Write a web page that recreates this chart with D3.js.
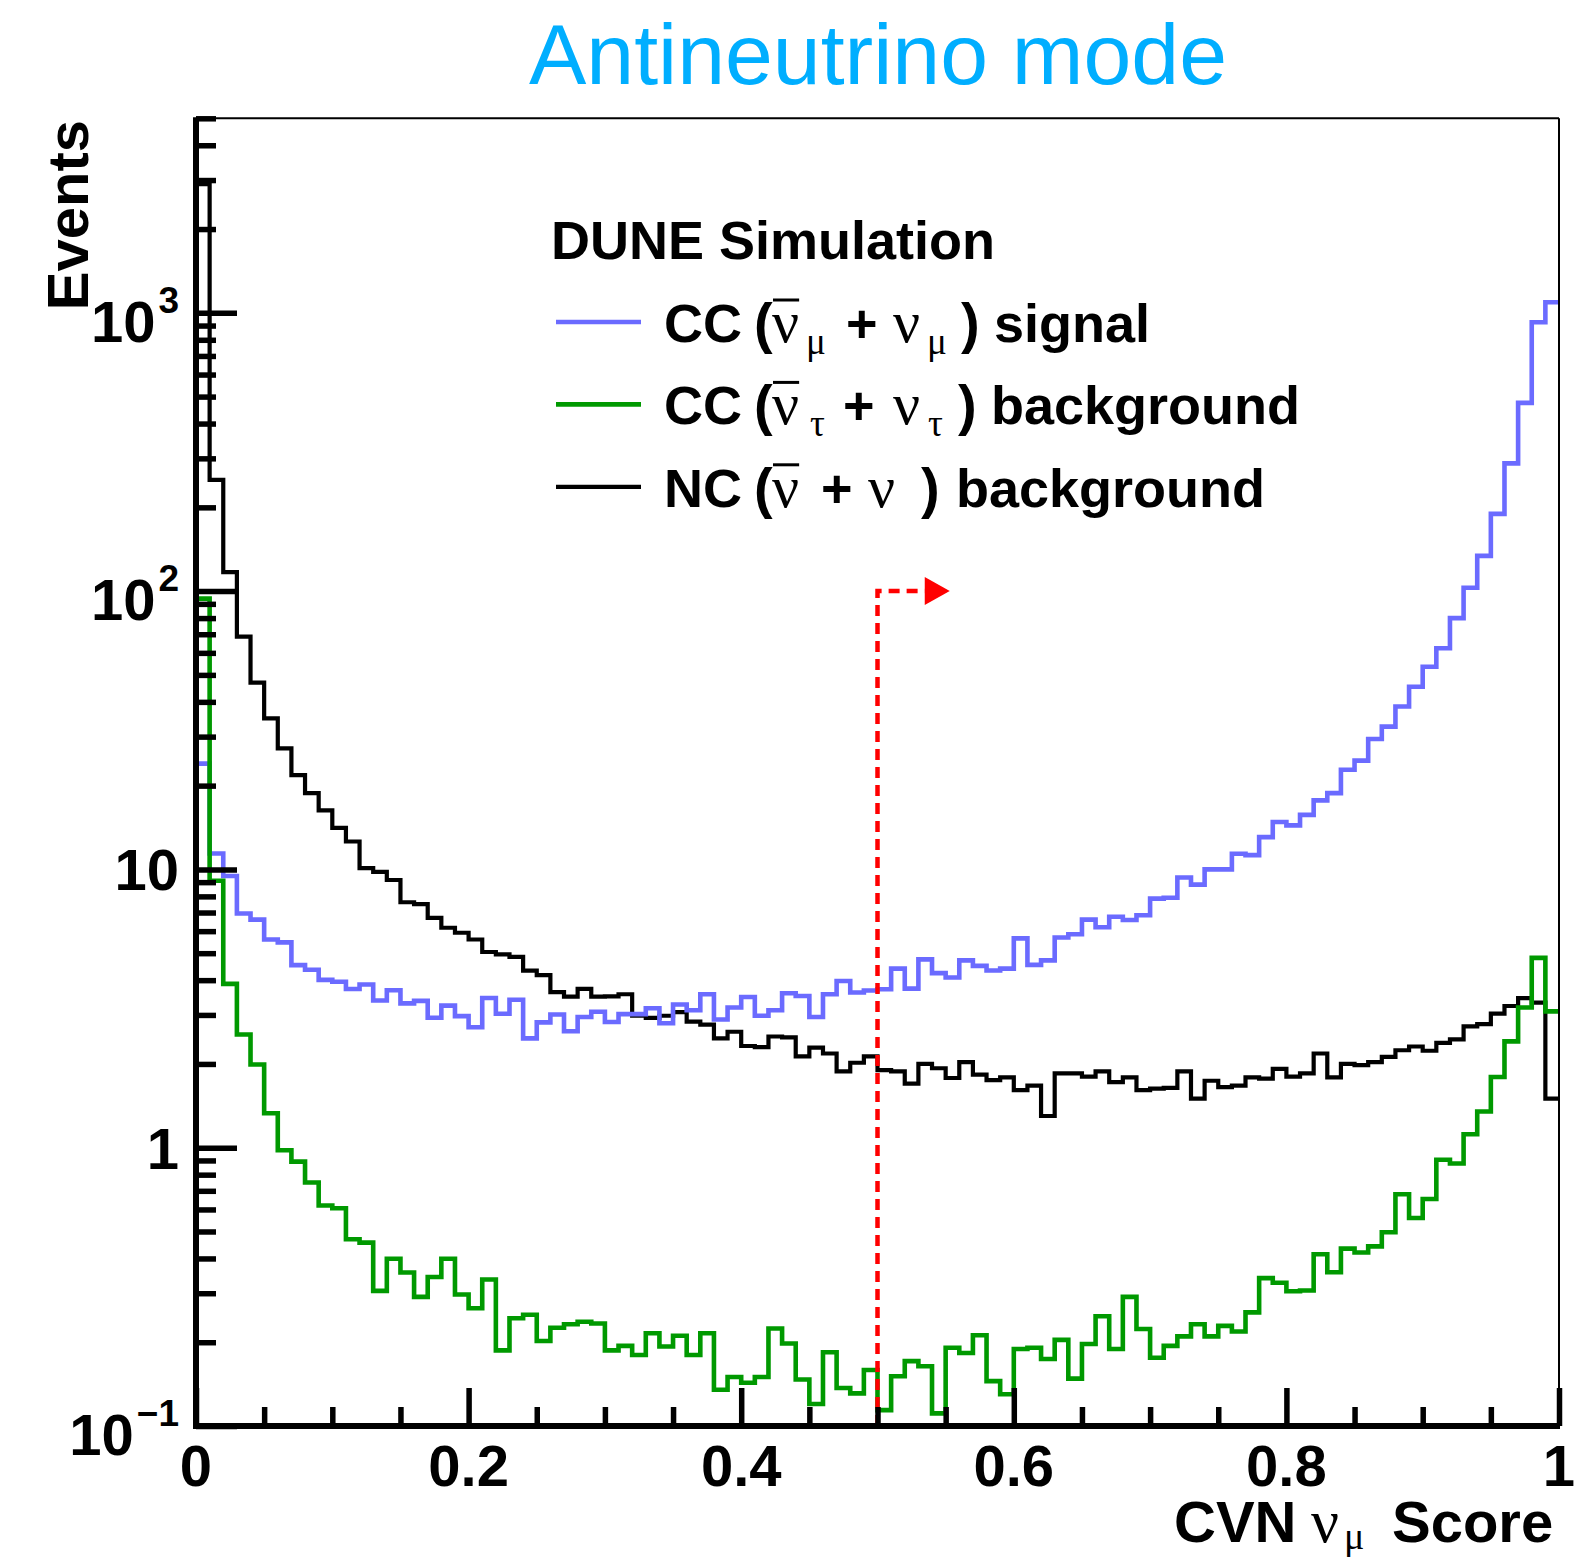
<!DOCTYPE html>
<html>
<head>
<meta charset="utf-8">
<script src="https://cdn.jsdelivr.net/npm/d3@7"></script>
<style>
  html, body { margin: 0; padding: 0; background: #fff; }
  svg { display: block; }
</style>
</head>
<body>
<svg id="chart" width="1577" height="1557"></svg>
<script>
// ---------------- DATA ----------------
// 100 bins of CVN nu_mu score in [0, 1]
const binEdges = d3.range(0, 101).map(i => i / 100);

// CC (anti-nu_mu + nu_mu) signal
const ccMuSignal = [
  24, 11.4, 9.47, 6.94, 6.6, 5.6, 5.47, 4.53, 4.36, 4.01,
  3.95, 3.72, 3.86, 3.38, 3.68, 3.30, 3.37, 2.93, 3.24, 2.97,
  2.71, 3.45, 3.03, 3.40, 2.47, 2.82, 3.01, 2.62, 2.95, 3.08,
  2.83, 3.02, 3.02, 3.17, 2.80, 3.27, 3.12, 3.56, 2.89, 3.19,
  3.48, 2.98, 3.12, 3.59, 3.51, 2.95, 3.56, 3.97, 3.61, 3.67,
  3.71, 4.40, 3.73, 4.75, 4.24, 4.09, 4.71, 4.50, 4.33, 4.40,
  5.65, 4.54, 4.71, 5.69, 5.85, 6.6, 6.2, 6.76, 6.58, 6.84,
  7.85, 7.91, 9.35, 8.82, 10.0, 10.0, 11.38, 11.25, 13.06, 14.8,
  14.39, 15.7, 17.7, 18.8, 22.8, 24.6, 29.4, 32.6, 38.5, 45.3,
  53.5, 62.3, 80.0, 102.8, 133.8, 189.5, 287.7, 474.6, 925, 1091
];

// CC (anti-nu_tau + nu_tau) background
const ccTauBackground = [
  94, 9.1, 3.88, 2.55, 1.99, 1.33, 0.979, 0.891, 0.750, 0.620,
  0.606, 0.469, 0.456, 0.306, 0.399, 0.356, 0.291, 0.343, 0.399, 0.297,
  0.265, 0.336, 0.187, 0.244, 0.251, 0.202, 0.2255, 0.232, 0.237, 0.2335,
  0.187, 0.194, 0.180, 0.2155, 0.193, 0.211, 0.180, 0.2155, 0.135, 0.150,
  0.143, 0.150, 0.224, 0.198, 0.147, 0.120, 0.184, 0.137, 0.131, 0.159,
  0.114, 0.151, 0.171, 0.164, 0.111, 0.191, 0.183, 0.212, 0.145, 0.130,
  0.189, 0.191, 0.174, 0.204, 0.148, 0.197, 0.248, 0.189, 0.291, 0.223,
  0.176, 0.194, 0.210, 0.232, 0.210, 0.229, 0.2185, 0.256, 0.340, 0.327,
  0.305, 0.307, 0.414, 0.357, 0.434, 0.420, 0.442, 0.497, 0.680, 0.559,
  0.654, 0.905, 0.877, 1.118, 1.349, 1.795, 2.41, 3.19, 4.81, 3.09
];

// NC (anti-nu + nu) background
const ncBackground = [
  2900, 251, 117, 68.6, 46.9, 34.9, 27.2, 21.8, 18.8, 16.3,
  14.1, 12.6, 10.1, 9.8, 9.16, 7.62, 7.5, 6.7, 6.17, 5.92,
  5.6, 5.05, 4.95, 4.85, 4.33, 4.17, 3.62, 3.49, 3.72, 3.49,
  3.50, 3.56, 2.98, 2.93, 2.98, 3.07, 2.84, 2.77, 2.47, 2.61,
  2.32, 2.30, 2.51, 2.49, 2.13, 2.29, 2.18, 1.88, 2.02, 2.13,
  1.90, 1.88, 1.70, 2.00, 1.93, 1.78, 2.03, 1.83, 1.75, 1.79,
  1.61, 1.67, 1.30, 1.85, 1.85, 1.80, 1.88, 1.72, 1.79, 1.61,
  1.63, 1.64, 1.88, 1.50, 1.74, 1.65, 1.67, 1.79, 1.77, 1.92,
  1.80, 1.85, 2.18, 1.79, 2.00, 1.98, 2.03, 2.12, 2.24, 2.31,
  2.23, 2.38, 2.45, 2.73, 2.78, 3.03, 3.23, 3.45, 3.32, 1.50
];

// Axis ticks and labels
const xMajorTicks = [0, 0.2, 0.4, 0.6, 0.8, 1];
const xMinorTicks = d3.range(0, 21).map(i => i / 20).filter(v => !xMajorTicks.some(m => Math.abs(m - v) < 1e-9));
const xTickLabels = ["0", "0.2", "0.4", "0.6", "0.8", "1"];
const yMajorTicks = [0.1, 1, 10, 100, 1000];
const yMinorTicks = [0.2,0.3,0.4,0.5,0.6,0.7,0.8,0.9, 2,3,4,5,6,7,8,9, 20,30,40,50,60,70,80,90, 200,300,400,500,600,700,800,900, 2000,3000,4000,5000];
const yTickBases = ["10", "1", "10", "10", "10"];
const yTickExps = ["\u22121", "", "", "2", "3"];
const yDomain = [0.1, 5000];

// Selection cut
const cutValue = 0.5;
const cutArrowLevel = 100;
const cutArrowEnd = 0.553;

// ---------------- LAYOUT ----------------
const SANS = "'Liberation Sans', Arial, Helvetica, sans-serif";
const SERIF = "'Liberation Serif', 'Times New Roman', serif";
const plot = { left: 196, right: 1559, top: 118.3, bottom: 1426 };

const svg = d3.select("#chart");
const x = d3.scaleLinear().domain([0, 1]).range([plot.left, plot.right]);
const y = d3.scaleLog().domain(yDomain).range([plot.bottom, plot.top]);

svg.append("rect").attr("width", 1577).attr("height", 1557).attr("fill", "#fff");

// Title
svg.append("text")
  .attr("x", 878).attr("y", 84)
  .attr("text-anchor", "middle")
  .style("font-family", SANS).style("font-size", "86px")
  .attr("fill", "#00aeff")
  .text("Antineutrino mode");

// clip
svg.append("clipPath").attr("id", "plotclip").append("rect")
  .attr("x", plot.left).attr("y", plot.top)
  .attr("width", plot.right - plot.left).attr("height", plot.bottom - plot.top);

// Histograms
const series = [
  { name: "nc", values: ncBackground, color: "#000000", width: 4.2 },
  { name: "mu", values: ccMuSignal, color: "#6b6bff", width: 4.6 },
  { name: "tau", values: ccTauBackground, color: "#009900", width: 4.6 }
];
const stepLine = d3.line().x(d => x(d[0])).y(d => y(d[1])).curve(d3.curveStepAfter);
const hg = svg.append("g").attr("clip-path", "url(#plotclip)");
series.forEach(s => {
  const pts = s.values.map((v, i) => [binEdges[i], v]);
  pts.push([binEdges[binEdges.length - 1], s.values[s.values.length - 1]]);
  hg.append("path")
    .attr("d", stepLine(pts))
    .attr("fill", "none")
    .attr("stroke", s.color)
    .attr("stroke-width", s.width)
    .attr("stroke-linejoin", "miter")
    .attr("stroke-linecap", "square");
});

// Cut line with arrow
const cutPath = d3.path();
cutPath.moveTo(x(cutValue), y(yDomain[0]));
cutPath.lineTo(x(cutValue), y(cutArrowLevel));
cutPath.lineTo(x(cutArrowEnd) - 25, y(cutArrowLevel));
svg.append("path")
  .attr("d", cutPath.toString())
  .attr("fill", "none").attr("stroke", "#ff0000")
  .attr("stroke-width", 4.5).attr("stroke-dasharray", "11,7");
const ay = y(cutArrowLevel), ax = x(cutArrowEnd);
svg.append("path")
  .attr("d", `M${ax},${ay} L${ax - 25},${ay - 14} L${ax - 25},${ay + 14} Z`)
  .attr("fill", "#ff0000");

// Frame (thin top/right)
svg.append("line").attr("x1", plot.left).attr("x2", plot.right).attr("y1", plot.top).attr("y2", plot.top)
  .attr("stroke", "#000").attr("stroke-width", 2);
svg.append("line").attr("x1", plot.right).attr("x2", plot.right).attr("y1", plot.top).attr("y2", plot.bottom)
  .attr("stroke", "#000").attr("stroke-width", 2);

// Axes ticks (inward)
function styleTicks(g, w) {
  g.select(".domain").remove();
  g.selectAll(".tick line").attr("stroke", "#000").attr("stroke-width", w);
  g.selectAll(".tick text").remove();
}
svg.append("g").attr("transform", `translate(${plot.left},0)`)
  .call(d3.axisLeft(y).tickValues(yMinorTicks).tickSize(-20).tickFormat(""))
  .call(g => styleTicks(g, 5.5));
svg.append("g").attr("transform", `translate(${plot.left},0)`)
  .call(d3.axisLeft(y).tickValues(yMajorTicks).tickSize(-41).tickFormat(""))
  .call(g => styleTicks(g, 5.5));
svg.append("g").attr("transform", `translate(0,${plot.bottom})`)
  .call(d3.axisBottom(x).tickValues(xMinorTicks).tickSize(-19).tickFormat(""))
  .call(g => styleTicks(g, 5.5));
svg.append("g").attr("transform", `translate(0,${plot.bottom})`)
  .call(d3.axisBottom(x).tickValues(xMajorTicks).tickSize(-38).tickFormat(""))
  .call(g => styleTicks(g, 5.5));

// Thick axis lines
svg.append("line").attr("x1", plot.left).attr("x2", plot.left).attr("y1", plot.top - 1).attr("y2", plot.bottom + 3)
  .attr("stroke", "#000").attr("stroke-width", 6);
svg.append("line").attr("x1", plot.left - 3).attr("x2", plot.right + 1).attr("y1", plot.bottom).attr("y2", plot.bottom)
  .attr("stroke", "#000").attr("stroke-width", 6);

// X tick labels
xMajorTicks.forEach((v, i) => {
  svg.append("text")
    .attr("x", x(v)).attr("y", 1486)
    .attr("text-anchor", "middle")
    .style("font-family", SANS).style("font-weight", "bold").style("font-size", "58px")
    .text(xTickLabels[i]);
});

// Y tick labels
yMajorTicks.forEach((v, i) => {
  const hasExp = yTickExps[i] !== "";
  const t = svg.append("text")
    .attr("x", 179).attr("y", y(v) + (hasExp ? 29 : 21))
    .attr("text-anchor", "end")
    .style("font-family", SANS).style("font-weight", "bold").style("font-size", "58px");
  t.append("tspan").text(yTickBases[i]);
  if (hasExp) {
    t.append("tspan").attr("dx", 3).attr("dy", -29).style("font-size", "37px").text(yTickExps[i]);
  }
});

// Y axis title
svg.append("text")
  .attr("transform", "translate(88,120) rotate(-90)")
  .attr("text-anchor", "end")
  .style("font-family", SANS).style("font-weight", "bold").style("font-size", "58px")
  .text("Events");

// Rich text helper
function rich(g, x0, base, segs, barOffset) {
  segs.forEach(s => {
    const t = g.append("text")
      .attr("x", x0 + s.dx).attr("y", base + (s.dy || 0))
      .style("font-family", s.serif ? SERIF : SANS)
      .style("font-weight", s.serif ? "normal" : "bold")
      .style("font-size", s.size + "px")
      .text(s.t);
    if (s.bar) {
      const w = t.node().getComputedTextLength();
      g.append("line")
        .attr("x1", x0 + s.dx + 1).attr("x2", x0 + s.dx + w)
        .attr("y1", base - barOffset).attr("y2", base - barOffset)
        .attr("stroke", "#000").attr("stroke-width", 3);
    }
  });
}

// X axis title: CVN nu_mu Score
rich(svg, 1174, 1542, [
  { t: "CVN", dx: 0, size: 58 },
  { t: "\u03BD", dx: 137, size: 62, serif: true },
  { t: "\u03BC", dx: 170, size: 38, serif: true, dy: 7 },
  { t: "Score", dx: 218, size: 58 }
]);

// Legend
svg.append("text")
  .attr("x", 551).attr("y", 258.5)
  .style("font-family", SANS).style("font-weight", "bold").style("font-size", "54px")
  .text("DUNE Simulation");

const legendRows = [
  { color: "#6b6bff", width: 4.6, segs: [
    { t: "CC", dx: 0, size: 54 }, { t: "(", dx: 90, size: 56 },
    { t: "\u03BD", dx: 108, size: 60, serif: true, bar: true },
    { t: "\u03BC", dx: 142, size: 37, serif: true, dy: 12 },
    { t: "+", dx: 182, size: 54 },
    { t: "\u03BD", dx: 229, size: 60, serif: true },
    { t: "\u03BC", dx: 263, size: 37, serif: true, dy: 12 },
    { t: ")", dx: 297, size: 56 }, { t: "signal", dx: 330, size: 54 } ] },
  { color: "#009900", width: 4.6, segs: [
    { t: "CC", dx: 0, size: 54 }, { t: "(", dx: 90, size: 56 },
    { t: "\u03BD", dx: 108, size: 60, serif: true, bar: true },
    { t: "\u03C4", dx: 146, size: 37, serif: true, dy: 12 },
    { t: "+", dx: 179, size: 54 },
    { t: "\u03BD", dx: 229, size: 60, serif: true },
    { t: "\u03C4", dx: 264, size: 37, serif: true, dy: 12 },
    { t: ")", dx: 294, size: 56 }, { t: "background", dx: 327, size: 54 } ] },
  { color: "#000000", width: 4.2, segs: [
    { t: "NC", dx: 0, size: 54 }, { t: "(", dx: 90, size: 56 },
    { t: "\u03BD", dx: 108, size: 60, serif: true, bar: true },
    { t: "+", dx: 157, size: 54 },
    { t: "\u03BD", dx: 204, size: 60, serif: true },
    { t: ")", dx: 257, size: 56 }, { t: "background", dx: 292, size: 54 } ] }
];
legendRows.forEach((r, i) => {
  const ly = 322 + i * 82.4;
  svg.append("line").attr("x1", 556).attr("x2", 641).attr("y1", ly).attr("y2", ly)
    .attr("stroke", r.color).attr("stroke-width", r.width);
  rich(svg, 664, ly + 20, r.segs, 42);
});
</script>
</body>
</html>
